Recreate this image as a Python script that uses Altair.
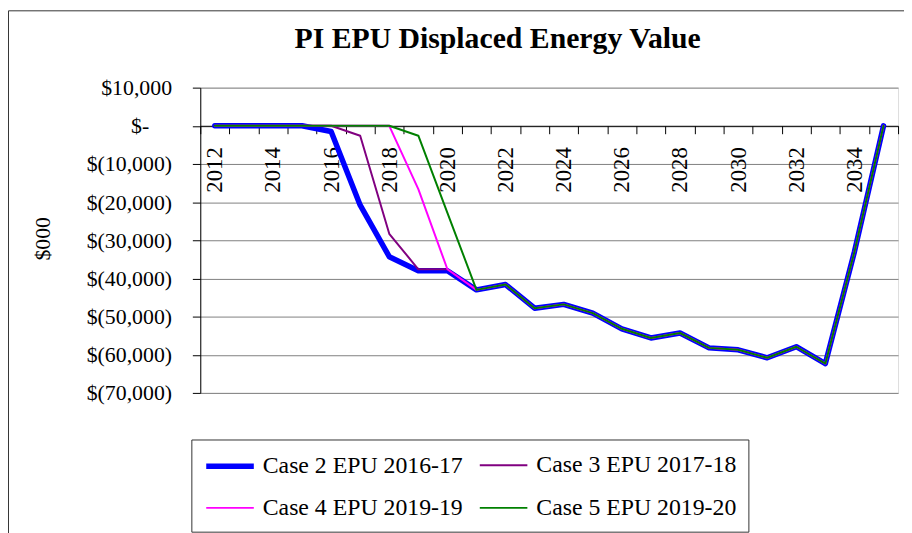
import altair as alt
import pandas as pd

years = [str(y) for y in range(2012, 2036)]

series_names = [
    "Case 2 EPU 2016-17",
    "Case 3 EPU 2017-18",
    "Case 4 EPU 2019-19",
    "Case 5 EPU 2019-20",
]

tail = [-43000, -41600, -47800, -46800, -49100, -53200, -55600, -54300,
        -58200, -58700, -60800, -57900, -62300, -33000, 0]

case2 = [0, 0, 0, 0, -1500, -20800, -34300, -38000, -38000] + tail
case3 = [0, 0, 0, 0, 0, -2600, -28300, -37600, -37600] + tail
case4 = [0, 0, 0, 0, 0, 0, 0, -16600, -37600] + tail
case5 = [0, 0, 0, 0, 0, 0, 0, -2600, -22800] + tail

colors = ["#0000FF", "#800080", "#FF00FF", "#008000"]
widths = [5.5, 2, 2, 2]

rows = []
for name, vals in zip(series_names, [case2, case3, case4, case5]):
    for yr, v in zip(years, vals):
        rows.append({"Year": yr, "Value": v, "Series": name})
df = pd.DataFrame(rows)

FONT = "Liberation Serif"
W, H = 704, 308

y_label_expr = (
    "datum.value == 0 ? '$-' : "
    "(datum.value < 0 ? '$(' + format(-datum.value, ',') + ')' : '$' + format(datum.value, ','))"
)

legend = alt.Legend(
    orient="none", legendX=-9, legendY=355, columns=2, direction="horizontal",
    title=None, symbolType="M-1,0L3,0", symbolSize=576, labelFont=FONT,
    labelFontSize=24, labelColor="black", strokeColor="#333333", padding=12,
    rowPadding=17, columnPadding=13, labelOffset=30, labelLimit=0,
    fillColor="white",
)

x_enc = alt.X(
    "Year:O", bandPosition=0.5,
    scale=alt.Scale(type="band", paddingInner=0, paddingOuter=0),
    axis=alt.Axis(
        title=None, orient="bottom", offset=-(H - 38.5), tickBand="extent",
        labelAngle=-90, labelAlign="right", labelBaseline="middle",
        labelExpr="parseInt(datum.value) % 2 == 0 ? datum.value : ''",
        labelFont=FONT, labelFontSize=23, labelColor="black",
        labelPadding=13, tickSize=8, tickColor="black", domainColor="black",
        grid=False, labelOverlap=False,
    ),
)
y_enc = alt.Y(
    "Value:Q",
    scale=alt.Scale(domain=[-70000, 10000], nice=False, zero=False),
    axis=alt.Axis(
        title="$000", values=list(range(-70000, 10001, 10000)),
        labelExpr=y_label_expr, labelFont=FONT, labelFontSize=22,
        labelColor="black",
        labelPadding={"condition": {"test": "datum.value == 0", "value": 44}, "value": 21},
        tickSize=8, tickColor="black",
        domainColor="black", gridColor="#808080", gridWidth=1,
        titleFont=FONT, titleFontSize=22, titleFontWeight="normal",
        titleColor="black", titleAngle=-90, titleAlign="center",
        titleBaseline="middle", titleX=-159, titleY=152,
    ),
)
color_enc = alt.Color("Series:N", scale=alt.Scale(domain=series_names, range=colors), legend=legend)
width_enc = alt.StrokeWidth(
    "Series:N", scale=alt.Scale(type="ordinal", domain=series_names, range=widths), legend=legend
)

base = alt.Chart(df)
line_layers = []
for name in series_names:
    line_layers.append(
        base.transform_filter(alt.datum.Series == name)
        .mark_line(strokeCap="round", strokeJoin="round")
        .encode(x=x_enc, y=y_enc, color=color_enc, strokeWidth=width_enc,
                order=alt.Order("Year:O"))
    )

frame = alt.Chart(pd.DataFrame({"a": [0]})).mark_rect(
    fill=None, stroke="#333333", strokeWidth=1, clip=False
).encode(
    x=alt.value(-193.5), y=alt.value(-77.5), x2=alt.value(2000), y2=alt.value(2000)
)

chart = alt.layer(frame, *line_layers).properties(
    width=W, height=H,
    autosize=alt.AutoSizeParams(type="none"),
    padding={"left": 194, "top": 78, "right": 6, "bottom": 139},
    title=alt.Title(
        "PI EPU Displaced Energy Value", font=FONT, fontSize=30,
        fontWeight="bold", color="black", anchor="middle", dx=-52,
        frame="group", offset=0, baseline="alphabetic", dy=68,
    ),
).configure_view(stroke="#808080", strokeWidth=1.5).configure(background="white")

chart.save("out.html", embed_options={"renderer": "svg", "actions": False})
